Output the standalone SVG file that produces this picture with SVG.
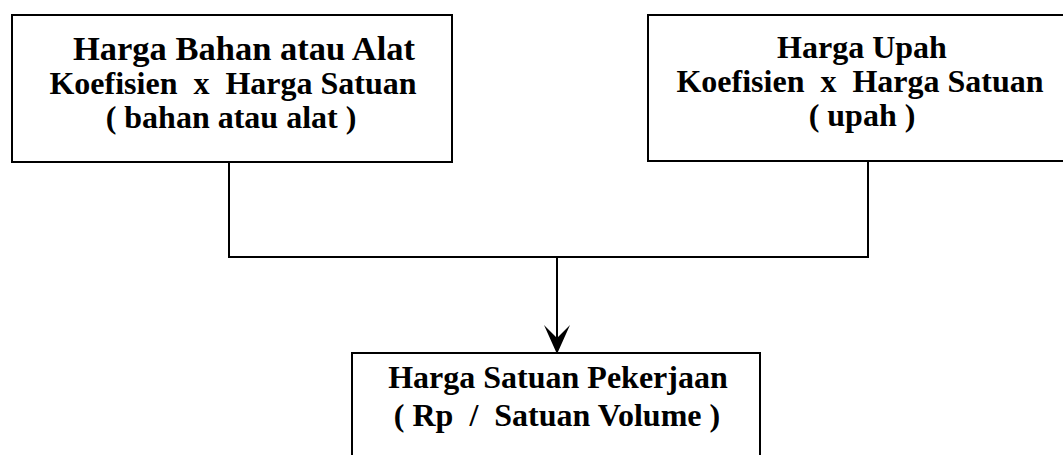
<svg xmlns="http://www.w3.org/2000/svg" width="1063" height="455" viewBox="0 0 1063 455">
<style>
.box{fill:#fff;stroke:#000;stroke-width:2}
.t{font-family:"Liberation Serif","Times New Roman",serif;font-weight:bold;font-size:32px;fill:#000;text-anchor:middle;white-space:pre}
.big{font-size:34.5px}
.c{fill:none;stroke:#000;stroke-width:2}
.head{fill:#000;stroke:none}
</style>
<rect width="1063" height="455" fill="#fff"/>
<g id="connectors">
<path class="c" d="M229,162 V257 H868 V161"/>
<path class="c" d="M557,257 V342"/>
<path class="head" d="M544,325 L557,354 L570,325 L557,338 Z"/>
</g>
<g id="node-bahan">
<rect class="box" x="12" y="15" width="440" height="147"/>
<text class="t big" x="244" y="60">Harga Bahan atau Alat</text>
<text class="t" x="233" y="94" xml:space="preserve">Koefisien  x  Harga Satuan</text>
<text class="t" x="231" y="128">( bahan atau alat )</text>
</g>
<g id="node-upah">
<rect class="box" x="648" y="15" width="430" height="146"/>
<text class="t" x="862" y="58">Harga Upah</text>
<text class="t" x="860" y="92" xml:space="preserve">Koefisien  x  Harga Satuan</text>
<text class="t" x="862" y="126">( upah )</text>
</g>
<g id="node-hasil">
<rect class="box" x="352" y="353" width="408" height="120"/>
<text class="t" x="558" y="388">Harga Satuan Pekerjaan</text>
<text class="t" x="557" y="426" xml:space="preserve">( Rp  /  Satuan Volume )</text>
</g>
</svg>
